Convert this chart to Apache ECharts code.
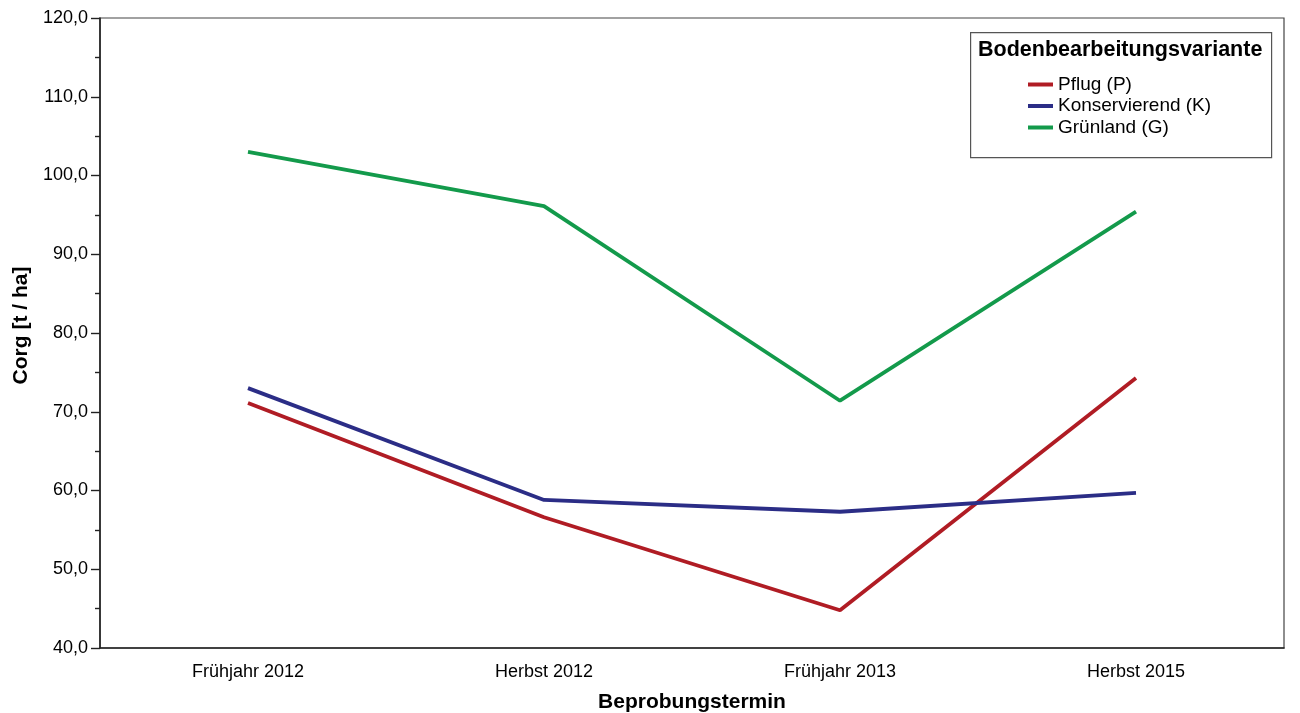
<!DOCTYPE html>
<html>
<head>
<meta charset="utf-8">
<script src="https://cdn.jsdelivr.net/npm/echarts@6/dist/echarts.min.js"></script>
<style>html,body{margin:0;padding:0;background:#fff}#c{width:1300px;height:713px}</style>
</head>
<body>
<div id="c"></div>
<script>
const categories = ['Frühjahr 2012', 'Herbst 2012', 'Frühjahr 2013', 'Herbst 2015'];
const pflug = [71.1, 56.6, 44.8, 74.3];
const konservierend = [73.0, 58.8, 57.3, 59.7];
const gruenland = [103.0, 96.1, 71.4, 95.4];
const seriesNames = ['Pflug (P)', 'Konservierend (K)', 'Grünland (G)'];
const colors = ['#b01c24', '#2b2d86', '#139a4b'];

const font = 'Liberation Sans, Arial, sans-serif';
const chart = echarts.init(document.getElementById('c'), null, {renderer: 'canvas'});
const mk = (name, data, color) => ({
  name, type: 'line', data, smooth: false, showSymbol: false, symbol: 'none',
  lineStyle: {width: 3.8, color}, itemStyle: {color}, animation: false
});
chart.setOption({
  animation: false,
  backgroundColor: '#fff',
  grid: {left: 100, right: 16, top: 18, bottom: 65, containLabel: false, outerBoundsMode: 'none',
    show: true, borderColor: '#444', borderWidth: 1.2, backgroundColor: 'transparent'},
  xAxis: {
    type: 'category', data: categories, boundaryGap: true,
    name: 'Beprobungstermin', nameLocation: 'middle', nameGap: 44,
    nameTextStyle: {fontFamily: font, fontSize: 21, fontWeight: 'bold', color: '#000'},
    axisLine: {lineStyle: {color: '#222', width: 1.6}},
    axisTick: {alignWithLabel: true, length: 8, lineStyle: {color: '#222', width: 1.4}},
    axisLabel: {fontFamily: font, fontSize: 18, color: '#000', margin: 15},
    splitLine: {show: false}
  },
  yAxis: {
    type: 'value', min: 40, max: 120, interval: 10,
    name: 'Corg [t / ha]', nameLocation: 'middle', nameGap: 66, nameRotate: 90,
    nameTextStyle: {fontFamily: font, fontSize: 21, fontWeight: 'bold', color: '#000', padding: [0, 0, 0, 15]},
    axisLine: {show: true, lineStyle: {color: '#222', width: 1.6}},
    axisTick: {show: true, length: 9, lineStyle: {color: '#222', width: 1.4}},
    minorTick: {show: true, splitNumber: 2, length: 5, lineStyle: {color: '#222', width: 1.4}},
    axisLabel: {fontFamily: font, fontSize: 18, color: '#000', margin: 12,
      formatter: v => v.toFixed(1).replace('.', ',')},
    splitLine: {show: false}
  },
  legend: {
    orient: 'vertical', left: 1028, top: 75, itemGap: 2.5, padding: 0,
    itemWidth: 25, itemHeight: 4, icon: 'rect',
    textStyle: {fontFamily: font, fontSize: 19, lineHeight: 19, color: '#000'},
    data: seriesNames
  },
  graphic: [
    {type: 'rect', left: 970, top: 32, shape: {width: 301, height: 125},
     style: {fill: '#fff', stroke: '#555', lineWidth: 1.2}, z: 0},
    {type: 'text', left: 978, top: 39,
     style: {text: 'Bodenbearbeitungsvariante', fontFamily: font, fontSize: 21.5, fontWeight: 'bold', fill: '#000'}, z: 10}
  ],
  series: [
    mk(seriesNames[0], pflug, colors[0]),
    mk(seriesNames[1], konservierend, colors[1]),
    mk(seriesNames[2], gruenland, colors[2])
  ]
});
</script>
</body>
</html>
